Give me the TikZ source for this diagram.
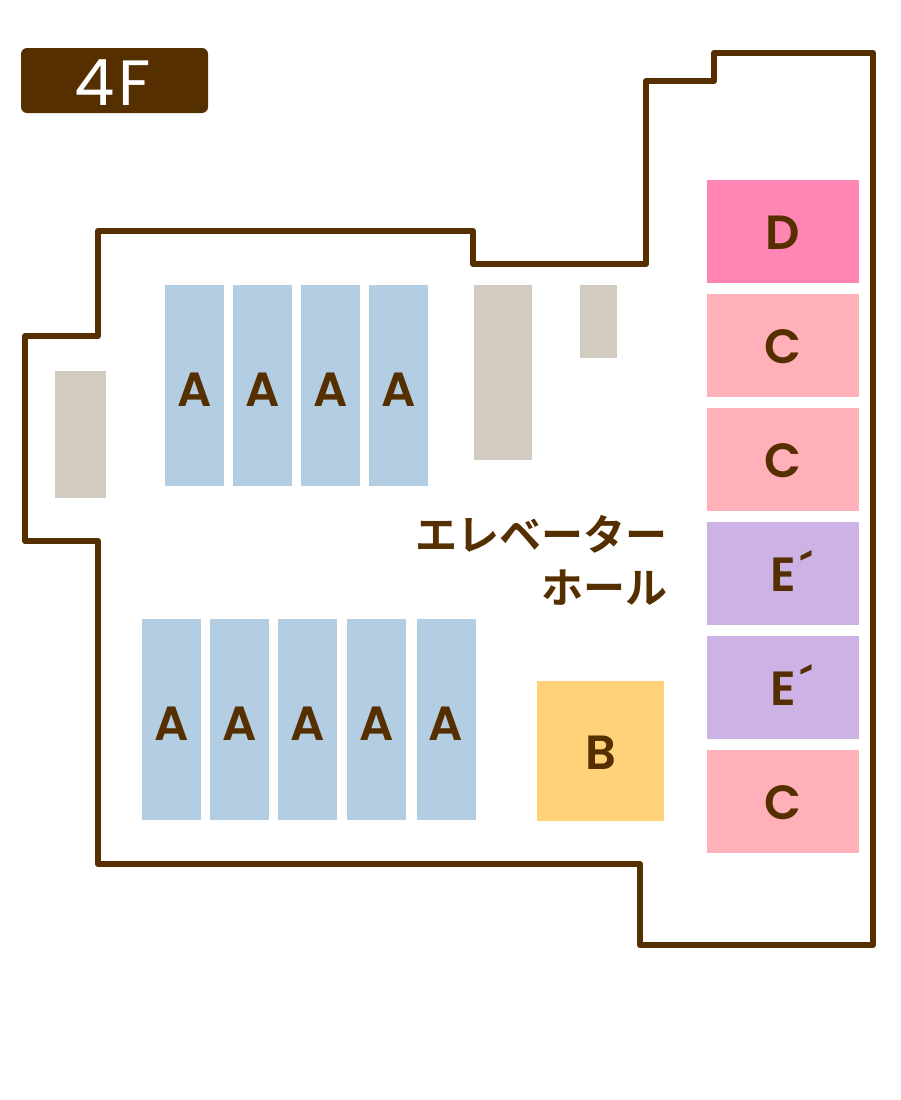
\documentclass[tikz,border=0pt]{standalone}
\usepackage{fontspec}
\setmainfont{Poppins}
\newfontfamily\boothfont{Poppins SemiBold}
\newfontfamily\jpfont{Noto Sans CJK JP Bold}
\definecolor{wallbrown}{HTML}{552F00}
\definecolor{boothblue}{HTML}{B3CDE3}
\definecolor{boothgray}{HTML}{D2CCC0}
\definecolor{boothorange}{HTML}{FFD27A}
\definecolor{boothrose}{HTML}{FFB0B8}
\definecolor{boothpink}{HTML}{FF85B5}
\definecolor{boothpurple}{HTML}{CDB3E5}
\tikzset{
  booth/.style={inner sep=0pt, text=wallbrown, text depth=0pt, font=\boothfont\fontsize{48}{48}\selectfont},
  sidebooth/.style={booth, text height=36pt, minimum width=152pt, minimum height=103pt},
  rowbooth/.style={booth, text height=42pt, fill=boothblue, minimum width=59pt, minimum height=201pt},
  pillar/.style={inner sep=0pt, fill=boothgray}
}
\begin{document}
\begin{tikzpicture}[x=1pt, y=-1pt]
\useasboundingbox (0,0) rectangle (900,1100);
% outer wall
\draw [line width=6pt, color=wallbrown, line join=round] (714,53) -- (873,53) -- (873,945) -- (640,945) -- (640,864) -- (98,864) -- (98,541) -- (25,541) -- (25,336) -- (98,336) -- (98,231) -- (473,231) -- (473,264) -- (646,264) -- (646,81) -- (714,81) -- cycle;
% floor tag
\node (tag) [fill=wallbrown, rounded corners=6pt, minimum width=187pt, minimum height=65pt, inner sep=0pt, text=white, text height=49pt, text depth=0pt, font=\fontsize{64}{64}\selectfont] at (114.5,80.5) {4\kern4pt F\kern3pt};
% upper row
\node (a1) [rowbooth] at (194.5,385.5) {A};
\node (a2) [rowbooth] at (262.5,385.5) {A};
\node (a3) [rowbooth] at (330.5,385.5) {A};
\node (a4) [rowbooth] at (398.5,385.5) {A};
% lower row
\node (a5) [rowbooth] at (171.5,719.5) {A};
\node (a6) [rowbooth] at (239.5,719.5) {A};
\node (a7) [rowbooth] at (307.5,719.5) {A};
\node (a8) [rowbooth] at (376.5,719.5) {A};
\node (a9) [rowbooth] at (446,719.5) {A};
% pillars
\node (p1) [pillar, minimum width=51pt, minimum height=127pt] at (80.5,434.5) {};
\node (p2) [pillar, minimum width=58pt, minimum height=175pt] at (503,372.5) {};
\node (p3) [pillar, minimum width=37pt, minimum height=73pt] at (598.5,321.5) {};
% right column
\node (d) [sidebooth, fill=boothpink] at (783,231.5) {D};
\node (c1) [sidebooth, fill=boothrose] at (783,345.5) {C};
\node (c2) [sidebooth, fill=boothrose] at (783,459.5) {C};
\node (e1) [sidebooth, fill=boothpurple] at (783,573.5) {E\rlap{\kern5pt\raisebox{.04em}{´}}};
\node (e2) [sidebooth, fill=boothpurple] at (783,687.5) {E\rlap{\kern5pt\raisebox{.04em}{´}}};
\node (c3) [sidebooth, fill=boothrose] at (783,801.5) {C};
\node (b) [booth, text height=36pt, fill=boothorange, minimum width=127pt, minimum height=140pt] at (600.5,751) {B};
% hall label
\node (hall) [anchor=east, align=right, inner sep=0pt, text=wallbrown, font=\jpfont\fontsize{42}{53}\selectfont] at (668,560) {エレベーター\\ホール};
\end{tikzpicture}
\end{document}
